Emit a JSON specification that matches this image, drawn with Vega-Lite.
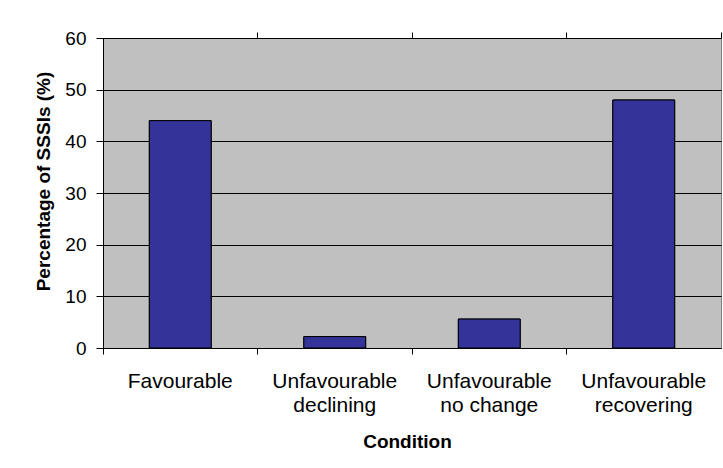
{
  "$schema": "https://vega.github.io/schema/vega-lite/v6.json",
  "autosize": "none",
  "padding": {"left": 103, "top": 38, "right": 2, "bottom": 120},
  "width": 618,
  "height": 310,
  "background": "#ffffff",
  "data": {"values": [
    {"condition": "Favourable", "pct": 44},
    {"condition": "Unfavourable declining", "pct": 2.2},
    {"condition": "Unfavourable no change", "pct": 5.6},
    {"condition": "Unfavourable recovering", "pct": 48}
  ]},
  "layer": [
    {
      "mark": {"type": "bar", "fill": "#333399", "stroke": "#000000", "strokeWidth": 1, "width": {"band": 0.4}},
      "encoding": {
        "x": {
          "field": "condition", "type": "nominal", "sort": null,
          "scale": {"paddingInner": 0, "paddingOuter": 0},
          "axis": {
            "title": "Condition",
            "bandPosition": 0,
            "labelAngle": 0,
            "labelExpr": "indexof(datum.label, ' ') > 0 ? [substring(datum.label, 0, indexof(datum.label, ' ')), substring(datum.label, indexof(datum.label, ' ') + 1)] : datum.label",
            "labelFont": "Liberation Sans", "labelFontSize": 21, "labelColor": "#000000",
            "labelLineHeight": 24, "labelBaseline": "alphabetic", "labelPadding": 33,
            "tickSize": 6, "tickColor": "#000000", "tickWidth": 1,
            "domainColor": "#000000", "domainWidth": 1,
            "grid": false,
            "titleFont": "Liberation Sans", "titleFontSize": 19, "titleFontWeight": "bold", "titleColor": "#000000",
            "titleX": 304, "titleY": 99, "titleBaseline": "alphabetic", "titleAlign": "center"
          }
        },
        "y": {
          "field": "pct", "type": "quantitative",
          "scale": {"domain": [0, 60], "nice": false},
          "axis": {
            "title": "Percentage of SSSIs (%)",
            "values": [0, 10, 20, 30, 40, 50, 60],
            "labelFont": "Liberation Sans", "labelFontSize": 19, "labelColor": "#000000", "labelPadding": 10,
            "tickSize": 7, "tickColor": "#000000", "tickWidth": 1,
            "domainColor": "#000000", "domainWidth": 1,
            "grid": true, "gridColor": "#000000", "gridWidth": 1,
            "titleFont": "Liberation Sans", "titleFontSize": 19, "titleFontWeight": "bold", "titleColor": "#000000",
            "titleAngle": -90, "titleX": -50, "titleY": 143, "titleBaseline": "bottom", "titleAlign": "center"
          }
        }
      }
    },
    {
      "mark": {"type": "bar", "fill": "#333399", "stroke": "#000000", "strokeWidth": 1, "width": {"band": 0.4}},
      "encoding": {
        "x": {
          "field": "condition", "type": "nominal", "sort": null,
          "axis": {
            "title": null, "bandPosition": 1, "labels": false, "domain": false, "grid": false,
            "tickSize": 6, "tickColor": "#000000", "tickWidth": 1
          }
        },
        "y": {"field": "pct", "type": "quantitative"}
      }
    }
  ],
  "resolve": {"axis": {"x": "independent"}},
  "config": {
    "view": {"fill": "#C0C0C0", "stroke": "#808080", "strokeWidth": 1}
  }
}
